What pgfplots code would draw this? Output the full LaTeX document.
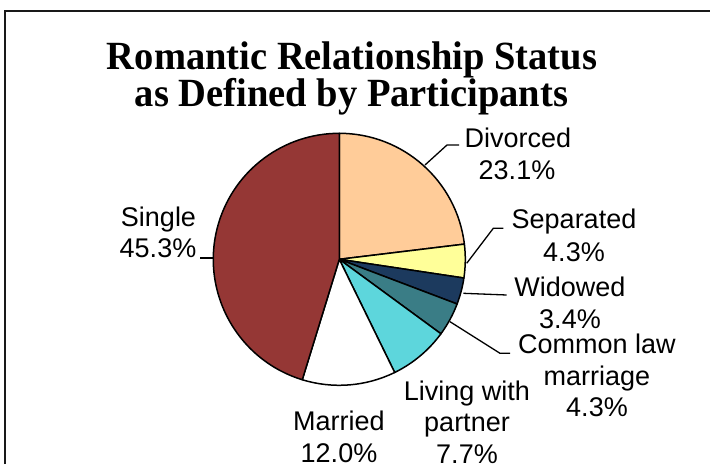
\documentclass[border=0pt]{standalone}
\usepackage{pgfplots}
\pgfplotsset{compat=1.18}
\usepackage{pgfplotstable}
\usepackage{fontspec}
\setmainfont{Liberation Sans}
\newfontfamily\titlefont[FakeStretch=0.963]{Liberation Serif}
\definecolor{pie0}{HTML}{FFCC99}
\definecolor{pie1}{HTML}{FFFF99}
\definecolor{pie2}{HTML}{1C3A5E}
\definecolor{pie3}{HTML}{3A7D86}
\definecolor{pie4}{HTML}{5DD6DC}
\definecolor{pie5}{HTML}{FFFFFF}
\definecolor{pie6}{HTML}{953735}
\pgfplotstableread{
value
23.1
4.3
3.4
4.3
7.7
12.0
45.3
}\piedata
\newcommand\piecx{339.3}
\newcommand\piecy{204.7}
\newcommand\pier{126}
\newcommand\lbl[3]{\node[anchor=base,inner sep=0pt,font=\fontsize{27}{32}\selectfont] at (axis cs:#1,#2) {#3};}
\begin{document}
\begin{tikzpicture}
\def\pietotal{0}
\pgfplotsforeachungrouped \i in {0,...,6}{%
  \pgfplotstablegetelem{\i}{value}\of\piedata
  \pgfmathsetmacro\pietotal{\pietotal+\pgfplotsretval}%
}
\def\piecum{0}
\pgfplotsforeachungrouped \i in {0,...,6}{%
  \pgfplotstablegetelem{\i}{value}\of\piedata
  \pgfmathsetmacro\pa{90-\piecum/\pietotal*360}%
  \pgfmathsetmacro\piecum{\piecum+\pgfplotsretval}%
  \pgfmathsetmacro\pb{90-\piecum/\pietotal*360}%
  \expandafter\xdef\csname pieA\i\endcsname{\pa}%
  \expandafter\xdef\csname pieB\i\endcsname{\pb}%
}
\begin{axis}[name=ax, hide axis, scale only axis, x=1pt, y=1pt,
  xmin=0, xmax=710, ymin=0, ymax=464, clip=false]
\pgfplotsinvokeforeach{0,...,6}{
  \filldraw[fill=pie#1, draw=black, line width=1.5pt, line join=round]
    (axis cs:\piecx,\piecy) -- ++(\csname pieA#1\endcsname:\pier pt)
    arc[start angle=\csname pieA#1\endcsname, end angle=\csname pieB#1\endcsname, radius=\pier pt] -- cycle;
}
% frame
\draw[line width=2.3pt, black!90] (axis cs:5,0) -- (axis cs:5,453) -- (axis cs:710,453);
% title
\node[anchor=base, inner sep=0pt, font=\titlefont\bfseries\fontsize{40}{37}\selectfont] at (axis cs:352,394) {Romantic Relationship Status};
\node[anchor=base, inner sep=0pt, font=\titlefont\bfseries\fontsize{40}{37}\selectfont] at (axis cs:351.5,357) {as Defined by Participants};
% leader lines
\draw[line width=1.3pt] (axis cs:200,206) -- (axis cs:213.5,206);
\draw[line width=1.3pt] (axis cs:425,299) -- (axis cs:447,319) -- (axis cs:459,319);
\draw[line width=1.3pt] (axis cs:466.7,200.7) -- (axis cs:493.3,235.7) -- (axis cs:503.3,235.7);
\draw[line width=1.3pt] (axis cs:463.3,170.7) -- (axis cs:506.7,169);
\draw[line width=1.3pt] (axis cs:450,142.3) -- (axis cs:500,110.7) -- (axis cs:510,110.7);
% labels
\lbl{518}{316}{Divorced}
\lbl{517}{284}{23.1\%}
\lbl{574}{235}{Separated}
\lbl{574}{202.5}{4.3\%}
\lbl{570}{167.5}{Widowed}
\lbl{570}{136}{3.4\%}
\lbl{597}{111}{Common law}
\lbl{597}{79}{marriage}
\lbl{597}{47.5}{4.3\%}
\lbl{467}{64}{Living with}
\lbl{467}{32.5}{partner}
\lbl{467}{1}{7.7\%}
\lbl{339}{34}{Married}
\lbl{339}{2}{12.0\%}
\lbl{158.5}{237.3}{Single}
\lbl{158}{206}{45.3\%}
\end{axis}
\pgfresetboundingbox
\path[use as bounding box] (ax.south west) rectangle (ax.north east);
\end{tikzpicture}
\end{document}
